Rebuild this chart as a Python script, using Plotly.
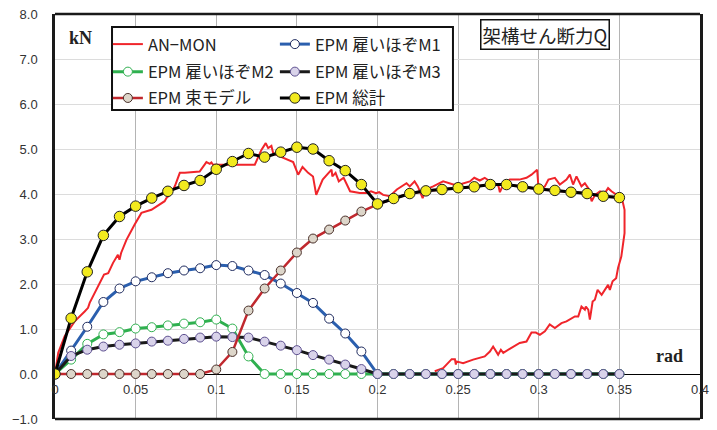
import plotly.graph_objects as go

# ---------------- data ----------------
rad = [0.00, 0.01, 0.02, 0.03, 0.04, 0.05, 0.06, 0.07, 0.08, 0.09,
       0.10, 0.11, 0.12, 0.13, 0.14, 0.15, 0.16, 0.17, 0.18, 0.19,
       0.20, 0.21, 0.22, 0.23, 0.24, 0.25, 0.26, 0.27, 0.28, 0.29,
       0.30, 0.31, 0.32, 0.33, 0.34, 0.35]

epm_m1 = [0, 0.52, 1.05, 1.60, 1.90, 2.06, 2.15, 2.24, 2.30, 2.35,
          2.42, 2.40, 2.30, 2.20, 2.01, 1.80, 1.58, 1.23, 0.90, 0.50,
          0, 0, 0, 0, 0, 0, 0, 0, 0, 0,
          0, 0, 0, 0, 0, 0]

epm_m2 = [0, 0.32, 0.67, 0.88, 0.93, 1.01, 1.04, 1.08, 1.12, 1.15,
          1.21, 1.01, 0.39, 0, 0, 0, 0, 0, 0, 0,
          0, 0, 0, 0, 0, 0, 0, 0, 0, 0,
          0, 0, 0, 0, 0, 0]

epm_m3 = [0, 0.40, 0.54, 0.61, 0.65, 0.68, 0.72, 0.74, 0.78, 0.81,
          0.83, 0.82, 0.81, 0.72, 0.63, 0.53, 0.42, 0.32, 0.21, 0.11,
          0, 0, 0, 0, 0, 0, 0, 0, 0, 0,
          0, 0, 0, 0, 0, 0]

epm_tsuka = [0, 0, 0, 0, 0, 0, 0, 0, 0, 0,
             0.10, 0.49, 1.41, 1.90, 2.30, 2.70, 3.01, 3.21, 3.41, 3.61,
             3.77, 3.90, 4.01, 4.07, 4.10, 4.14, 4.16, 4.21, 4.21, 4.16,
             4.11, 4.08, 4.04, 4.01, 3.95, 3.92]

epm_total = [0, 1.24, 2.27, 3.08, 3.50, 3.73, 3.91, 4.06, 4.19, 4.30,
             4.55, 4.72, 4.90, 4.82, 4.93, 5.04, 5.00, 4.74, 4.52, 4.21,
             3.78, 3.90, 4.01, 4.07, 4.10, 4.14, 4.16, 4.21, 4.21, 4.16,
             4.11, 4.08, 4.04, 4.01, 3.95, 3.92]

an_mon_x = [0, 0.002, 0.006, 0.0122, 0.0184, 0.0205, 0.0215, 0.0257, 0.0304, 0.033,
            0.036, 0.039, 0.040, 0.041, 0.0443, 0.0494, 0.0536, 0.0598, 0.068, 0.0691,
            0.0712, 0.0743, 0.0774, 0.0805, 0.0897, 0.0939, 0.096, 0.097, 0.098, 0.1239,
            0.128, 0.1307, 0.1322, 0.1342, 0.1353, 0.1373, 0.1477, 0.1508, 0.1535, 0.157,
            0.160, 0.162, 0.166, 0.1715, 0.172, 0.174, 0.176, 0.179, 0.183, 0.189,
            0.193, 0.196, 0.199, 0.201, 0.2035, 0.2076, 0.212, 0.218, 0.220, 0.223,
            0.225, 0.228, 0.230, 0.2345, 0.2407, 0.247, 0.251, 0.2573, 0.260, 0.2634,
            0.2665, 0.2697, 0.275, 0.2759, 0.278, 0.282, 0.288, 0.2924, 0.2955, 0.299,
            0.300, 0.3038, 0.306, 0.310, 0.3131, 0.3172, 0.3193, 0.3213, 0.3234, 0.3265,
            0.3286, 0.3307, 0.3328, 0.3349, 0.338, 0.341, 0.343, 0.3451, 0.3482, 0.3513,
            0.3532, 0.3532, 0.3512, 0.3492, 0.348, 0.3458, 0.345, 0.3441, 0.343, 0.341,
            0.339, 0.3365, 0.3348, 0.3334, 0.3317, 0.3307, 0.3292, 0.3286, 0.3265, 0.3245,
            0.3224, 0.3172, 0.3141, 0.310, 0.3068, 0.3038, 0.3007, 0.2982, 0.2955, 0.2924,
            0.2882, 0.282, 0.278, 0.2765, 0.2748, 0.2717, 0.2697, 0.2665, 0.2593, 0.2531,
            0.249, 0.2486, 0.248, 0.246, 0.2407, 0.2355]

an_mon_y = [0, 0.47, 0.84, 1.17, 1.39, 1.47, 1.58, 1.87, 2.21, 2.24,
            2.47, 2.65, 2.54, 2.69, 2.98, 3.32, 3.58, 3.65, 3.84, 3.91,
            3.98, 4.17, 4.47, 4.47, 4.50, 4.71, 4.67, 4.70, 4.65, 4.65,
            4.98, 5.13, 5.02, 5.07, 4.91, 4.87, 4.71, 4.43, 4.60, 4.47,
            4.39, 3.98, 4.32, 4.54, 4.39, 4.47, 4.28, 4.36, 4.06, 4.02,
            4.02, 4.06, 4.02, 4.04, 3.98, 3.95, 4.10, 4.24, 4.17, 4.28,
            4.17, 3.91, 4.10, 4.17, 4.28, 4.21, 4.21, 4.28, 4.36, 4.30,
            4.36, 4.28, 4.18, 4.04, 4.21, 4.32, 4.32, 4.36, 4.43, 4.54,
            4.06, 4.17, 4.32, 4.36, 4.21, 4.32, 4.43, 4.21, 4.39, 4.17,
            4.24, 4.13, 3.84, 3.98, 4.06, 4.02, 4.13, 4.06, 3.98, 3.95,
            3.65, 3.13, 2.61, 2.36, 2.13, 2.06, 1.98, 1.87, 1.98, 1.87,
            1.76, 1.87, 1.65, 1.61, 1.21, 1.43, 1.50, 1.43, 1.50, 1.28,
            1.28, 1.17, 1.13, 1.02, 1.10, 0.95, 0.87, 0.92, 0.92, 0.72,
            0.69, 0.56, 0.47, 0.54, 0.43, 0.61, 0.50, 0.39, 0.32, 0.24,
            0.28, 0.21, 0.33, 0.33, 0.13, 0.06]

x_tick_vals = [0, 0.05, 0.1, 0.15, 0.2, 0.25, 0.3, 0.35, 0.4]
x_tick_text = ["0", "0.05", "0.1", "0.15", "0.2", "0.25", "0.3", "0.35", "0.4"]

names = ["AN−MON", "EPM 雇いほぞM1", "EPM 雇いほぞM2", "EPM 雇いほぞM3", "EPM 束モデル", "EPM 総計"]

# ---------------- figure ----------------
JP = "Noto Sans CJK JP"
fig = go.Figure()

fig.add_trace(go.Scatter(x=an_mon_x, y=an_mon_y, mode="lines", name=names[0],
                         legend="legend", line=dict(color="#f0252b", width=2)))

def epm(y, name, leg, lc, mfill, mline, size=9, lw=3):
    fig.add_trace(go.Scatter(
        x=rad, y=y, mode="lines+markers", name=name, legend=leg,
        line=dict(color=lc, width=lw),
        marker=dict(size=size, color=mfill, line=dict(color=mline, width=1))))

epm(epm_m1, names[1], "legend", "#2b5fae", "#ffffff", "#1e2a5e")
epm(epm_m2, names[2], "legend2", "#2fb04f", "#ffffff", "#2fb04f")
epm(epm_m3, names[3], "legend2", "#1a1a1a", "#d9d3ea", "#5d5090")
epm(epm_tsuka, names[4], "legend3", "#c0282e", "#ddd6ca", "#4a302a", lw=2.5)
epm(epm_total, names[5], "legend3", "#000000", "#f2ea1e", "#222222", size=10.5)

def leg(yc):
    return dict(orientation="h", x=0.082, y=yc, xanchor="left", yanchor="middle",
                entrywidth=122, entrywidthmode="pixels",
                bgcolor="rgba(0,0,0,0)", borderwidth=0, itemwidth=30,
                font=dict(family=JP, size=16.5, color="#222222"))

fig.update_layout(
    width=717, height=430,
    margin=dict(l=55, r=17, t=14, b=11, autoexpand=False),
    paper_bgcolor="white", plot_bgcolor="white",
    font=dict(family="Liberation Sans, Arial", size=13, color="#333333"),
    showlegend=True,
    legend=leg(0.925), legend2=leg(0.857), legend3=leg(0.792),
)

fig.update_xaxes(
    range=[0, 0.4], tickvals=x_tick_vals, ticktext=x_tick_text,
    showgrid=True, gridcolor="#b4b4b4", gridwidth=1,
    zeroline=False, showline=False, automargin=False,
    anchor="free", position=1/9, ticks="", ticklabelstandoff=6,
    tickfont=dict(family="Liberation Sans, Arial", size=13, color="#333333"),
)
fig.update_yaxes(
    range=[-1, 8], dtick=1, tickformat=".1f",
    showgrid=True, gridcolor="#dcdcdc", gridwidth=1,
    zeroline=True, zerolinecolor="#000000", zerolinewidth=1,
    showline=True, mirror=True, linecolor="#1a1a1a", linewidth=2.5,
    automargin=False, ticks="", ticklabelstandoff=12, ticklabeloverflow="allow",
    tickfont=dict(family="Liberation Sans, Arial", size=13, color="#333333"),
)

# frame top / bottom
fig.add_shape(type="line", xref="paper", yref="paper", x0=0, x1=1, y0=1, y1=1,
              line=dict(color="#1a1a1a", width=2.5), layer="above")
fig.add_shape(type="line", xref="paper", yref="paper", x0=0, x1=1, y0=0, y1=0,
              line=dict(color="#1a1a1a", width=2.5), layer="above")
# legend box
fig.add_shape(type="rect", xref="paper", yref="paper", x0=0.0884, x1=0.617, y0=0.763, y1=0.968,
              line=dict(color="#111111", width=2), fillcolor="white", layer="above")

fig.add_annotation(text="架構せん断力Q", xref="paper", yref="paper", x=0.760, y=0.949,
                   xanchor="center", yanchor="middle",
                   showarrow=False, font=dict(family=JP, size=18.5, color="#222222"),
                   bordercolor="#111111", borderwidth=1.5, borderpad=1, bgcolor="white")
fig.add_annotation(text="<b>kN</b>", xref="paper", yref="paper", x=0.039, y=0.941,
                   xanchor="center", yanchor="middle",
                   showarrow=False, font=dict(family="Liberation Serif", size=18, color="#222222"))
fig.add_annotation(text="<b>rad</b>", xref="x", yref="y", x=0.381, y=0.39,
                   xanchor="center", yanchor="middle",
                   showarrow=False, font=dict(family="Liberation Serif", size=18, color="#222222"))

# remove the default 8px page margin so the figure sits at the window's corner
fig.write_html("out.html", config={"displayModeBar": False},
               post_script="document.body.style.margin='0';")
